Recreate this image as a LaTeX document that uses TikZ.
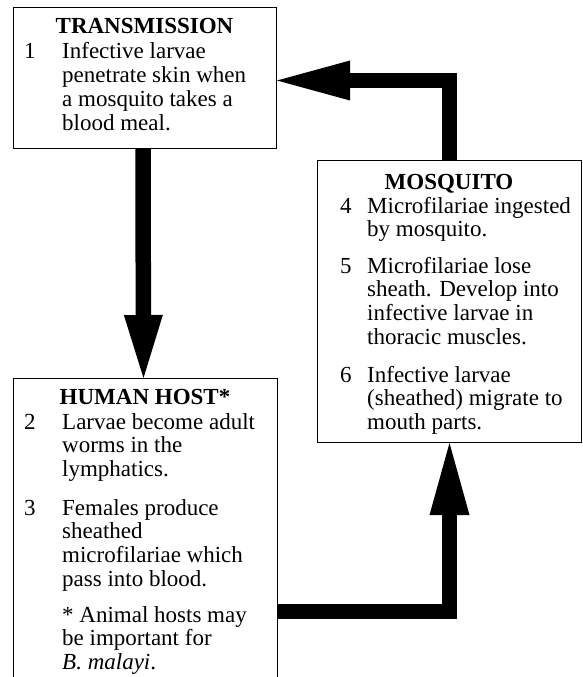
\documentclass[tikz,border=0pt]{standalone}
\usepackage{fontspec}
\setmainfont{Liberation Serif}
\usetikzlibrary{arrows.meta}
\newcommand{\lns}[1]{\begin{tabular}[t]{@{}l@{}}#1\end{tabular}}
\begin{document}
\begin{tikzpicture}[x=1pt,y=-1pt,
  box/.style={draw, line width=1pt, rectangle, inner sep=0pt, anchor=north west},
  txt/.style={anchor=base west, inner sep=0pt, font=\fontsize{23}{23.7}\selectfont},
  hd/.style={anchor=base, inner sep=0pt, font=\fontsize{23}{23.7}\selectfont\bfseries},
  bigarrow/.style={line width=15.5pt, line join=miter}]
\useasboundingbox (0,0) rectangle (583,677);
% boxes
\node[box, minimum width=263pt, minimum height=141pt] (trans) at (13,7) {};
\node[box, minimum width=264pt, minimum height=282pt] (mos) at (317,160) {};
\begin{scope}
\clip (0,0) rectangle (583,677);
\node[box, minimum width=264pt, minimum height=320pt] (human) at (13,378) {};
\end{scope}
% TRANSMISSION
\node[hd] (th) at (144.5,34) {TRANSMISSION};
\node[txt] (tn1) at (24,59) {1};
\node[txt] (tt1) at (62,59) {\lns{Infective larvae\\penetrate skin when\\a mosquito takes a\\blood meal.}};
% HUMAN HOST
\node[hd] (hh) at (145,404) {HUMAN HOST*};
\node[txt] (hn2) at (24,429) {2};
\node[txt] (ht2) at (62,429) {\lns{Larvae become adult\\worms in the\\lymphatics.}};
\node[txt] (hn3) at (24,515) {3};
\node[txt] (ht3) at (62,515) {\lns{Females produce\\sheathed\\microfilariae which\\pass into blood.}};
\node[txt] (hnote) at (62,622) {\lns{* Animal hosts may\\be important for\\\textit{B. malayi}.}};
% MOSQUITO
\node[hd] (mh) at (449,189) {MOSQUITO};
\node[txt] (mn4) at (340,213) {4};
\node[txt] (mt4) at (367,213) {\lns{Microfilariae ingested\\by mosquito.}};
\node[txt] (mn5) at (340,273) {5};
\node[txt] (mt5) at (367,273) {\lns{Microfilariae lose\\sheath. Develop into\\infective larvae in\\thoracic muscles.}};
\node[txt] (mn6) at (340,382) {6};
\node[txt] (mt6) at (367,382) {\lns{Infective larvae\\(sheathed) migrate to\\mouth parts.}};
% arrows
\draw[bigarrow, -{Triangle[length=73pt,width=40pt,line width=0pt]}] (mos.north) |- ([yshift=-2.5pt]trans.east);
\draw[bigarrow, -{Triangle[length=63pt,width=39pt,line width=0pt]}] ([xshift=-2pt]trans.south) -- ([xshift=-2pt]human.north);
\draw[bigarrow, -{Triangle[length=72pt,width=40pt,line width=0pt]}] ([yshift=-73pt]human.east) -| (mos.south);
\end{tikzpicture}
\end{document}
